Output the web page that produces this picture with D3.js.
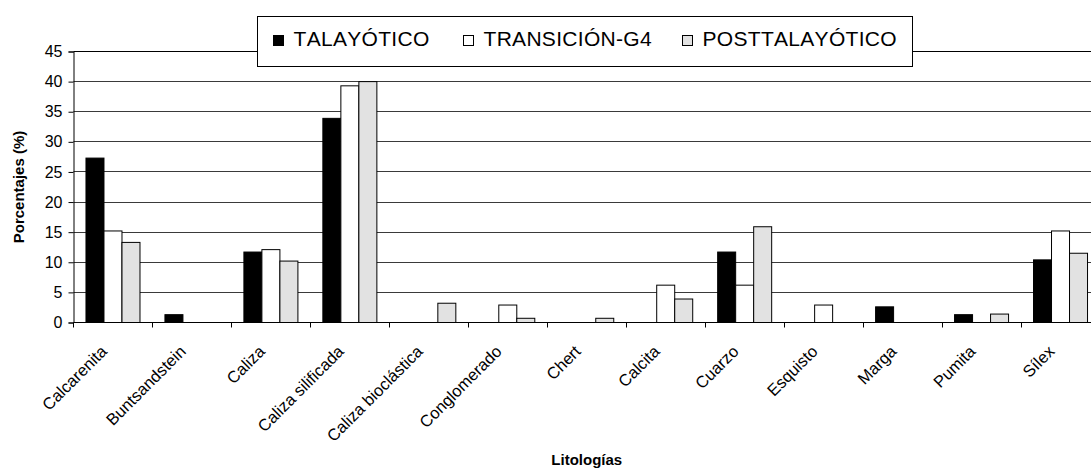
<!DOCTYPE html>
<html>
<head>
<meta charset="utf-8">
<script src="https://cdn.jsdelivr.net/npm/d3@7"></script>
<style>
  html, body { margin: 0; padding: 0; background: #fff; }
  svg { display: block; font-family: "Liberation Sans", Arial, sans-serif; font-kerning: none; }
</style>
</head>
<body>
<svg id="chart" width="1091" height="468"></svg>
<script>
// Lithology percentages by period
const categories = ["Calcarenita", "Buntsandstein", "Caliza", "Caliza silificada", "Caliza bioclástica",
  "Conglomerado", "Chert", "Calcita", "Cuarzo", "Esquisto", "Marga", "Pumita", "Sílex"];
const seriesNames = ["TALAYÓTICO", "TRANSICIÓN-G4", "POSTTALAYÓTICO"];
const talayotico     = [27.3, 1.3, 11.7, 33.9, 0,   0,   0,   0,   11.7, 0,   2.6, 1.3, 10.4];
const transicionG4   = [15.2, 0,   12.1, 39.3, 0,   2.9, 0,   6.2, 6.2,  2.9, 0,   0,   15.2];
const posttalayotico = [13.3, 0,   10.2, 40.0, 3.2, 0.7, 0.7, 3.9, 15.9, 0,   0,   1.4, 11.5];
const yTicks = [0, 5, 10, 15, 20, 25, 30, 35, 40, 45];
const yTitle = "Porcentajes (%)";
const xTitle = "Litologías";

const seriesValues = [talayotico, transicionG4, posttalayotico];
const fills = ["#000000", "#ffffff", "#e2e2e2"];

const svg = d3.select("#chart");
const mLeft = 73.5, mRight = 1100, mTop = 51.5, mBottom = 322.5;

const x0 = d3.scaleBand().domain(categories).range([mLeft, mRight]).paddingInner(0).paddingOuter(0);
const x1 = d3.scaleBand().domain(seriesNames).range([0, x0.bandwidth()]).paddingInner(0).paddingOuter(0.693);
const y = d3.scaleLinear().domain([0, 45]).range([mBottom, mTop]);

// horizontal gridlines
svg.append("g").selectAll("line").data(yTicks.filter(d => d > 0)).join("line")
  .attr("x1", mLeft).attr("x2", mRight)
  .attr("y1", d => Math.round(y(d) - 0.5) + 0.5).attr("y2", d => Math.round(y(d) - 0.5) + 0.5)
  .attr("stroke", d => d === 45 ? "#000" : "#3a3a3a").attr("stroke-width", 1);

// bars
const rows = categories.map((c, i) => ({ cat: c, vals: seriesNames.map((s, k) => ({ s, k, v: seriesValues[k][i] })) }));
svg.append("g").selectAll("g").data(rows).join("g")
  .attr("transform", d => `translate(${x0(d.cat)},0)`)
  .selectAll("rect").data(d => d.vals.filter(e => e.v > 0)).join("rect")
  .attr("x", d => x1(d.s))
  .attr("y", d => y(d.v))
  .attr("width", x1.bandwidth())
  .attr("height", d => y(0) - y(d.v))
  .attr("fill", d => fills[d.k])
  .attr("stroke", "#000").attr("stroke-width", 1);

// y axis
const yAxis = svg.append("g").attr("transform", `translate(${mLeft},0)`)
  .call(d3.axisLeft(y).tickValues(yTicks).tickSize(5).tickPadding(6).tickFormat(d3.format("d")));
yAxis.select(".domain").attr("stroke", "#000");
yAxis.selectAll(".tick line").attr("stroke", "#000");
yAxis.selectAll("text").attr("font-size", 16).attr("fill", "#000")
  .attr("font-family", "'Liberation Sans', Arial, sans-serif");

// x axis with ticks at category boundaries
const xAxisG = svg.append("g");
xAxisG.append("line").attr("x1", mLeft).attr("x2", mRight).attr("y1", mBottom).attr("y2", mBottom)
  .attr("stroke", "#000").attr("stroke-width", 1);
const bounds = categories.map(c => x0(c));
xAxisG.selectAll("line.tk").data(bounds).join("line").attr("class", "tk")
  .attr("x1", d => Math.round(d - 0.5) + 0.5).attr("x2", d => Math.round(d - 0.5) + 0.5)
  .attr("y1", mBottom).attr("y2", mBottom + 5).attr("stroke", "#000");
xAxisG.selectAll("text").data(categories).join("text")
  .attr("transform", d => `translate(${x0(d) + x0.bandwidth() / 2 - 5},${mBottom + 30}) rotate(-45)`)
  .attr("text-anchor", "end")
  .attr("font-size", 16.5).attr("fill", "#000")
  .text(d => d);

// axis titles
svg.append("text")
  .attr("transform", `translate(24,${(mTop + mBottom) / 2}) rotate(-90)`)
  .attr("text-anchor", "middle").attr("font-weight", "bold").attr("font-size", 15)
  .text(yTitle);
svg.append("text")
  .attr("x", (mLeft + mRight) / 2).attr("y", 465)
  .attr("text-anchor", "middle").attr("font-weight", "bold").attr("font-size", 15)
  .text(xTitle);

// legend
const legend = svg.append("g");
legend.append("rect").attr("x", 257.5).attr("y", 16.5).attr("width", 655).attr("height", 50)
  .attr("fill", "#fff").attr("stroke", "#000");
const legendX = [273.5, 463.5, 682.5];
const items = legend.selectAll("g.item").data(seriesNames).join("g").attr("class", "item")
  .attr("transform", (d, i) => `translate(${legendX[i]},0)`);
items.append("rect").attr("x", 0).attr("y", 35.5).attr("width", 10).attr("height", 10)
  .attr("fill", (d, i) => fills[i]).attr("stroke", "#000");
items.append("text").attr("x", 20).attr("y", 46).attr("font-size", 21).attr("fill", "#000")
  .attr("letter-spacing", 0.3)
  .text(d => d);
</script>
</body>
</html>
